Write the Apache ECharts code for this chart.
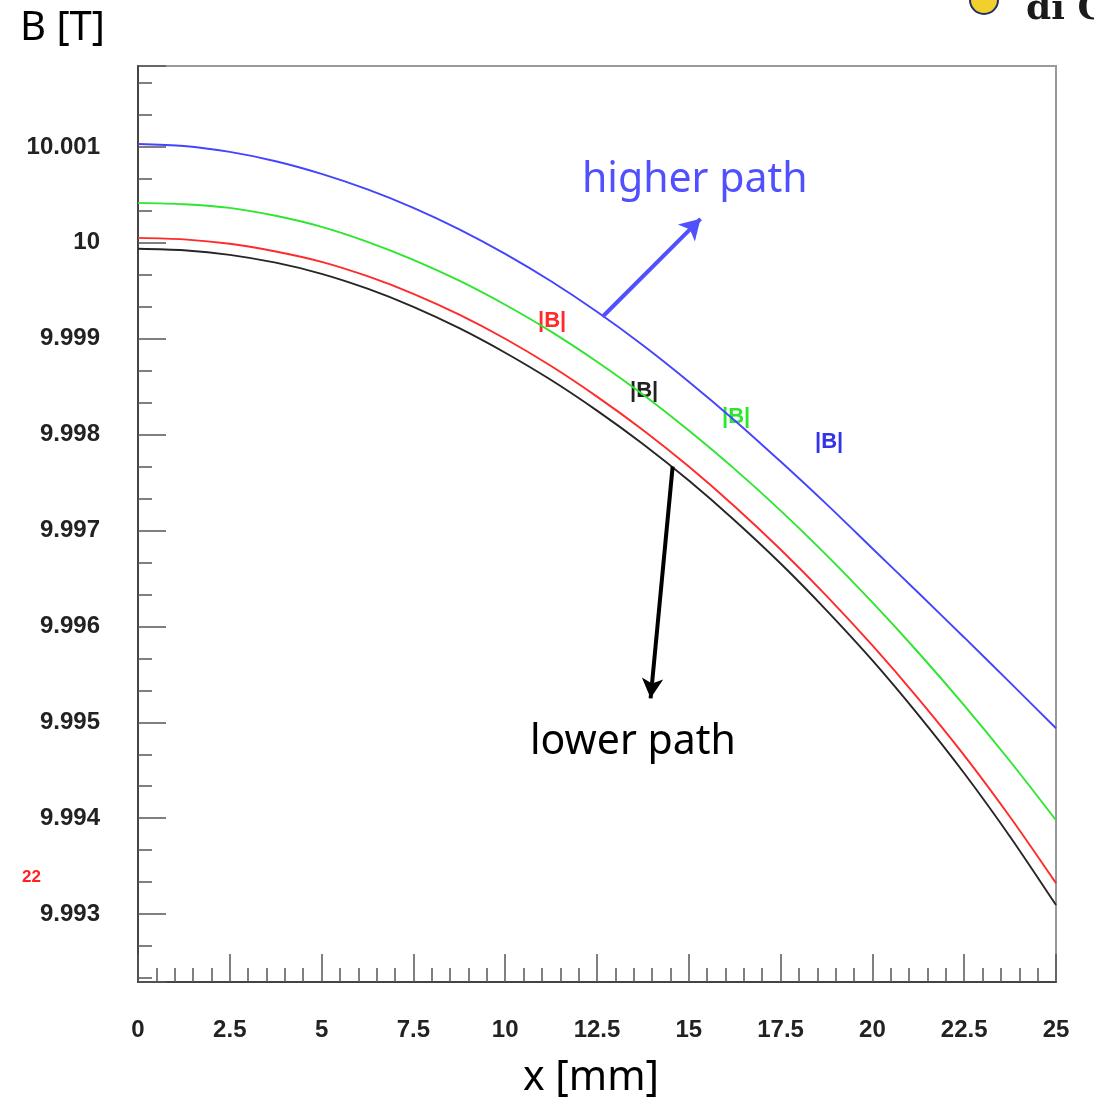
<!DOCTYPE html>
<html>
<head>
<meta charset="utf-8">
<script src="https://cdn.jsdelivr.net/npm/echarts@6/dist/echarts.min.js"></script>
<style>
  html, body { margin: 0; padding: 0; background: #fff; }
  #main { width: 1094px; height: 1102px; }
</style>
</head>
<body>
<div id="main"></div>
<script>
// x positions (mm)
var xPos = [0, 1.25, 2.5, 3.75, 5, 6.25, 7.5, 8.75, 10, 11.25, 12.5,
            13.75, 15, 16.25, 17.5, 18.75, 20, 21.25, 22.5, 23.75, 25];

// |B| along each path (T)
var bBlue  = [10.001031, 10.001010, 10.000948, 10.000851, 10.000719, 10.000557, 10.000365, 10.000141, 9.999885, 9.999599, 9.999281,
              9.998932, 9.998552, 9.998148, 9.997719, 9.997275, 9.996813, 9.996351, 9.995885, 9.995414, 9.994938];
var bGreen = [10.000417, 10.000403, 10.000365, 10.000282, 10.000167, 10.000011, 9.999823, 9.999605, 9.999354, 9.999074, 9.998760,
              9.998418, 9.998042, 9.997640, 9.997208, 9.996744, 9.996250, 9.995728, 9.995177, 9.994594, 9.993979];
var bRed   = [10.000052, 10.000036, 9.999990, 9.999910, 9.999802, 9.999652, 9.999469, 9.999251, 9.999000, 9.998715, 9.998396,
              9.998048, 9.997667, 9.997251, 9.996802, 9.996319, 9.995802, 9.995248, 9.994656, 9.994013, 9.993323];
var bBlack = [9.999938, 9.999922, 9.999875, 9.999793, 9.999677, 9.999522, 9.999333, 9.999110, 9.998854, 9.998569, 9.998250,
              9.997902, 9.997521, 9.997105, 9.996656, 9.996168, 9.995646, 9.995078, 9.994469, 9.993807, 9.993094];

// axis ranges
var xMin = 0, xMax = 25, xStep = 2.5;
var yMin = 9.992292, yMax = 10.001844;

// arrows (data coords)
var arrowHigh = [[12.65, 9.999229], [15.32, 10.00025]];
var arrowLow  = [[14.56, 9.997667], [13.96, 9.99525]];

function pairs(ys) {
  return xPos.map(function (x, i) { return [x, ys[i]]; });
}

var chart = echarts.init(document.getElementById('main'));

var tickColor = '#555';
var labelFont = {
  fontFamily: 'Liberation Sans',
  fontWeight: 'bold',
  fontSize: 24,
  color: '#222'
};

function lineSeries(name, ys, color) {
  return {
    name: name,
    type: 'line',
    data: pairs(ys),
    smooth: 0.3,
    showSymbol: false,
    lineStyle: { color: color, width: 1.9 },
    z: 3
  };
}

var series = [
  lineSeries('black', bBlack, '#262626'),
  lineSeries('red', bRed, '#ff2a2a'),
  lineSeries('green', bGreen, '#2ee62e'),
  lineSeries('blue', bBlue, '#4444ff')
];

// arrows as markLines
series[3].markLine = {
  silent: true,
  symbol: ['none', 'arrow'],
  symbolSize: [18, 20],
  label: { show: false },
  lineStyle: { color: '#5050ff', width: 4, type: 'solid' },
  data: [[{ coord: arrowHigh[0] }, { coord: arrowHigh[1] }]]
};
series[0].markLine = {
  silent: true,
  symbol: ['none', 'arrow'],
  symbolSize: [16, 20],
  label: { show: false },
  lineStyle: { color: '#000', width: 4, type: 'solid' },
  data: [[{ coord: arrowLow[0] }, { coord: arrowLow[1] }]]
};

chart.setOption({
  animation: false,
  backgroundColor: '#fff',
  grid: {
    left: 138, right: 38, top: 66, bottom: 120,
    show: true,
    borderColor: '#999',
    borderWidth: 2,
    containLabel: false
  },
  xAxis: {
    type: 'value',
    min: xMin, max: xMax, interval: xStep,
    axisLine: { show: true, lineStyle: { color: '#444', width: 2 } },
    axisTick: { show: true, inside: true, length: 28, lineStyle: { color: tickColor, width: 1.5 } },
    minorTick: { show: true, splitNumber: 5, length: 14, lineStyle: { color: tickColor, width: 1.5 } },
    splitLine: { show: false },
    axisLabel: Object.assign({ margin: 36 }, labelFont)
  },
  yAxis: {
    type: 'value',
    min: yMin, max: yMax, splitNumber: 10,
    axisLine: { show: true, lineStyle: { color: '#444', width: 2 } },
    axisTick: { show: true, inside: true, length: 28, lineStyle: { color: tickColor, width: 1.5 } },
    minorTick: { show: true, splitNumber: 3, length: 14, lineStyle: { color: tickColor, width: 1.5 } },
    splitLine: { show: false },
    axisLabel: Object.assign({
      margin: 38,
      showMinLabel: false,
      showMaxLabel: false,
      formatter: function (v) { return String(+v.toFixed(3)); }
    }, labelFont)
  },
  graphic: [
    { type: 'text', left: 20, top: 9, style: { text: 'B [T]', font: '40px "Noto Sans"', fill: '#000' } },
    { type: 'text', left: 523, top: 1058, style: { text: 'x [mm]', font: '41px "Noto Sans"', fill: '#000' } },
    { type: 'text', left: 582, top: 160, style: { text: 'higher path', font: '41px "Noto Sans"', fill: '#5050ff' } },
    { type: 'text', left: 530, top: 722, style: { text: 'lower path', font: '41px "Noto Sans"', fill: '#000' } },
    { type: 'text', left: 538, top: 310, style: { text: '|B|', font: 'bold 22px "Liberation Sans"', fill: '#ff2a2a' } },
    { type: 'text', left: 630, top: 380, style: { text: '|B|', font: 'bold 22px "Liberation Sans"', fill: '#222' } },
    { type: 'text', left: 722, top: 406, style: { text: '|B|', font: 'bold 22px "Liberation Sans"', fill: '#2ee62e' } },
    { type: 'text', left: 815, top: 431, style: { text: '|B|', font: 'bold 22px "Liberation Sans"', fill: '#3333ee' } },
    { type: 'text', left: 22, top: 869, style: { text: '22', font: 'bold 17px "Liberation Sans"', fill: '#ff2020' } },
    { type: 'circle', shape: { cx: 984, cy: 0, r: 14 }, style: { fill: '#f2cf2a', stroke: '#1e2f6e', lineWidth: 2 } },
    { type: 'text', left: 1026, top: -8, style: { text: 'di G', font: 'bold 36px "DejaVu Serif"', fill: '#1a1a1a' } }
  ],
  series: series
});
</script>
</body>
</html>
